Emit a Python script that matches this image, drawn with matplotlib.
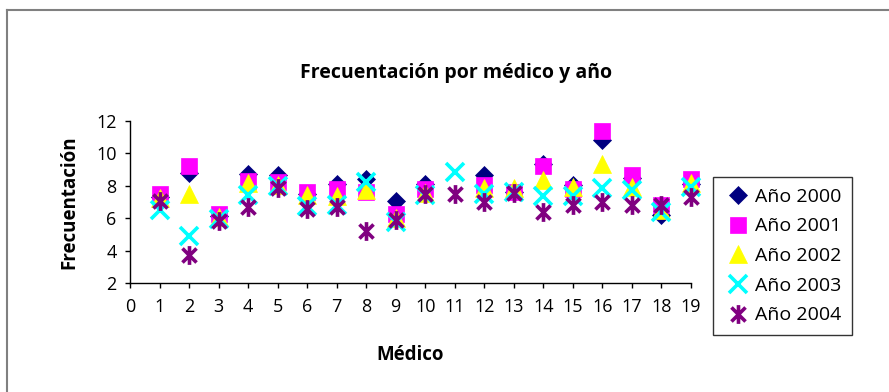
import matplotlib
matplotlib.use('Agg')
import matplotlib.pyplot as plt
from matplotlib.path import Path
from matplotlib.lines import Line2D
import numpy as np

plt.rcParams['font.family'] = ['Open Sans', 'DejaVu Sans']

medicos = list(range(1, 20))
anios = ['Año 2000', 'Año 2001', 'Año 2002', 'Año 2003', 'Año 2004']

nan = np.nan
frec_2000 = [7.3, 8.8, 6.15, 8.75, 8.65, 7.5, 8.1, 8.45, 7.1, 8.1, nan, 8.7, 7.6, 9.35, 8.05, 10.8, 8.5, 6.2, 8.1]
frec_2001 = [7.5, 9.25, 6.3, 8.3, 8.25, 7.6, 7.8, 7.6, 6.3, 7.8, nan, 8.05, 7.6, 9.2, 7.8, 11.4, 8.7, 6.85, 8.4]
frec_2002 = [7.25, 7.5, 6.1, 8.2, 8.05, 7.45, 7.35, 7.75, 6.0, 7.55, nan, 7.85, 7.9, 8.35, 7.95, 9.35, 7.95, 6.5, 8.15]
frec_2003 = [6.5, 4.9, 5.95, 7.45, 8.0, 6.75, 6.85, 8.25, 5.8, 7.45, 8.85, 7.5, 7.65, 7.35, 7.35, 7.85, 7.75, 6.4, 7.95]
frec_2004 = [7.1, 3.75, 5.85, 6.7, 7.85, 6.55, 6.7, 5.2, 5.9, 7.5, 7.5, 7.0, 7.55, 6.4, 6.8, 7.0, 6.8, 6.85, 7.3]

# asterisco: linea vertical + dos diagonales
asterisco = Path(
    [(0, -1), (0, 1), (-0.75, -0.75), (0.75, 0.75), (-0.75, 0.75), (0.75, -0.75)],
    [Path.MOVETO, Path.LINETO, Path.MOVETO, Path.LINETO, Path.MOVETO, Path.LINETO],
)

estilos = [
    dict(marker='D', ms=9.6, color='#000080', mew=0.5),
    dict(marker='s', ms=11.5, color='#FF00FF', mew=0.5),
    dict(marker='^', ms=13.5, color='#FFFF00', mew=0.5),
    dict(marker='x', ms=12.5, color='#00FFFF', mew=2.6),
    dict(marker=asterisco, ms=13.5, color='#800080', mew=2.6),
]

fig = plt.figure(figsize=(8.89, 3.92), dpi=100)
ax = fig.add_axes([130 / 889, 1 - 283.3 / 392, 561 / 889, 162.3 / 392])

for serie, nombre, est in zip([frec_2000, frec_2001, frec_2002, frec_2003, frec_2004], anios, estilos):
    ax.plot(medicos, serie, linestyle='none', marker=est['marker'], markersize=est['ms'],
            color=est['color'], markerfacecolor=est['color'], markeredgecolor=est['color'],
            markeredgewidth=est['mew'], label=nombre, clip_on=False)

ax.set_xlim(0, 19)
ax.set_ylim(2, 12)
ax.set_xticks(range(0, 20))
ax.set_yticks(range(2, 13, 2))
ax.tick_params(direction='out', length=3.6, width=1, labelsize=13, colors='black')
ax.tick_params(axis='x', pad=7)
ax.tick_params(axis='y', pad=6)
for lado in ['top', 'right']:
    ax.spines[lado].set_visible(False)
for lado in ['left', 'bottom']:
    ax.spines[lado].set_linewidth(1)

ax.set_xlabel('Médico', fontsize=13.5, fontweight='bold', labelpad=21)
ax.set_ylabel('Frecuentación', fontsize=13.5, fontweight='bold', labelpad=12)
fig.text(456 / 889, 1 - 73 / 392, 'Frecuentación por médico y año', fontsize=14,
         fontweight='bold', ha='center', va='center')

leg = ax.legend(loc='upper left', bbox_to_anchor=(713 / 889, 1 - 177 / 392),
                bbox_transform=fig.transFigure, fontsize=14, frameon=True, fancybox=False,
                edgecolor='black', borderpad=0.55, labelspacing=0.6, handlelength=1.5,
                handletextpad=0.1, borderaxespad=0)
leg.get_frame().set_linewidth(1)

# marco gris del grafico
fig.add_artist(Line2D([7 / 889, 1], [1 - 10 / 392, 1 - 10 / 392], color='#808080', lw=1.5))
fig.add_artist(Line2D([7 / 889, 7 / 889], [0, 1 - 10 / 392], color='#808080', lw=1.5))

fig.savefig('out.png', dpi=100)
